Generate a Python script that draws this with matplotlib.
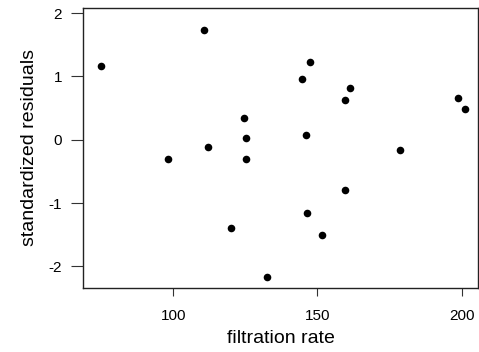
import matplotlib
matplotlib.use("Agg")
import matplotlib.pyplot as plt

plt.rcParams['font.family'] = ['Liberation Sans', 'DejaVu Sans']
plt.rcParams['axes.unicode_minus'] = False

filtration_rate = [74.9, 110.6, 98.3, 112.2, 120.2, 124.7, 125.1, 125.3, 132.5, 144.5,
                   147.6, 146.1, 146.3, 151.7, 159.4, 161.3, 159.4, 178.7, 198.8, 201.1]
std_resid = [1.17, 1.74, -0.31, -0.11, -1.40, 0.34, 0.02, -0.31, -2.16, 0.96,
             1.22, 0.08, -1.15, -1.51, 0.62, 0.82, -0.80, -0.16, 0.66, 0.48]
xticks = [100, 150, 200]
yticks = [-2, -1, 0, 1, 2]

fig = plt.figure(figsize=(4.79, 3.52), dpi=100)
ax = fig.add_axes([83/479, 64/352, 395/479, 280/352])
ax.scatter(filtration_rate, std_resid, s=30, c='black', linewidths=0, zorder=3)
ax.set_xlim(68.7, 205.7)
ax.set_ylim(-2.34, 2.08)
ax.set_xticks(xticks)
ax.set_yticks(yticks)
ax.tick_params(axis='x', length=6, width=0.8, color='#333333', labelsize=11, pad=9)
ax.tick_params(axis='y', length=9, width=0.8, color='#333333', labelsize=11, pad=6)
for s in ax.spines.values():
    s.set_linewidth(1.0)
    s.set_color('#222222')
ax.set_xlabel('filtration rate', fontsize=14, labelpad=5)
ax.set_ylabel('standardized residuals', fontsize=14, labelpad=8)
fig.savefig('out.png', dpi=100)
